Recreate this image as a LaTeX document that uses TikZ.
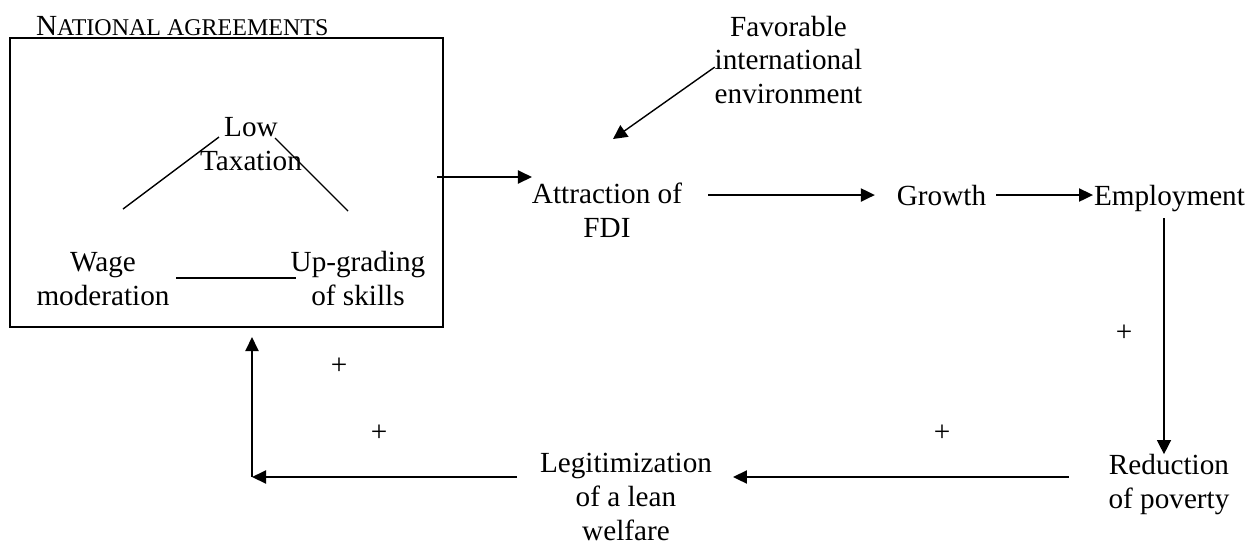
\documentclass[tikz,border=0pt]{standalone}
\usepackage{fontspec}
\setmainfont{Liberation Serif}
\usetikzlibrary{arrows.meta}
\tikzset{
  txt/.style={inner sep=0pt, outer sep=0pt, align=center, anchor=base,
    font=\fontsize{14.6}{16.8}\selectfont},
  plus/.style={inner sep=0pt, outer sep=0pt, font=\fontsize{14.6}{16.8}\selectfont},
  arr/.style={line width=1pt, -{Triangle[length=7pt,width=6.5pt]}},
  thinarr/.style={line width=0.7pt, -{Triangle[length=7pt,width=7pt]}},
  lin/.style={line width=0.7pt},
}
\begin{document}
\begin{tikzpicture}[x=0.5pt,y=-0.5pt]
		\useasboundingbox (0,0) rectangle (1250,543);
		\node[draw, line width=1pt, inner sep=0pt, outer sep=0pt, minimum width=216.5pt, minimum height=144.5pt] (agree) at (226.5,182.5) {};
		\node[txt, anchor=base west] (title) at (36,35) {N{\fontsize{12}{14}\selectfont ATIONAL AGREEMENTS}};
		\node[txt] (low) at (251,170.5) {Low\\Taxation};
		\node[txt] (wage) at (103,305.5) {Wage\\moderation};
		\node[txt] (skills) at (358,305.5) {Up-grading\\of skills};
		\node[txt] (fdi) at (607,237.5) {Attraction of\\FDI};
		\node[txt] (env) at (788.5,103.5) {Favorable\\international\\environment};
		\node[txt] (growth) at (941.5,205) {Growth};
		\node[txt] (employ) at (1169.5,205) {Employment};
		\node[txt] (poverty) at (1169,508) {Reduction\\of poverty};
		\node[txt] (welfare) at (626,540) {Legitimization\\of a lean\\welfare};
		\node[plus] (p1) at (1124,333) {+};
		\node[plus] (p2) at (942,433) {+};
		\node[plus] (p3) at (339,366) {+};
		\node[plus] (p4) at (379,433) {+};
		\coordinate (w1) at (123,209);
		\coordinate (w2) at (219,137);
		\coordinate (s1) at (275,138);
		\coordinate (s2) at (348,211);
		\coordinate (h1) at (176,278);
		\coordinate (h2) at (296,278);
		\coordinate (boxout) at (437,177);
		\coordinate (envtip) at (613,139);
		\coordinate (corner) at (252,477);
		\draw[lin] (w1) -- (w2);
		\draw[lin] (s1) -- (s2);
		\draw[lin] (h1) -- (h2);
		\draw[arr] (boxout) -- (boxout -| fdi.west);
		\draw[thinarr] ([yshift=-3.6pt]env.west) -- (envtip);
		\draw[arr, shorten <=13pt, shorten >=11pt] (fdi.east |- growth) -- (growth.west);
		\draw[arr, shorten <=5pt, shorten >=0.5pt] (growth.east) -- (growth.east -| employ.west);
		\draw[thinarr, shorten <=3.4pt] ([xshift=-2.75pt]employ.south) -- ([xshift=-2.75pt]employ.south |- poverty.north);
		\draw[arr, shorten <=20pt, shorten >=10.5pt] (poverty.west |- corner) -- (welfare.east |- corner);
		\draw[arr, shorten <=11.5pt] (welfare.west |- corner) -- (corner);
		\draw[arr, shorten >=5pt] (corner) -- (corner |- agree.south);
	\end{tikzpicture}
\end{document}
